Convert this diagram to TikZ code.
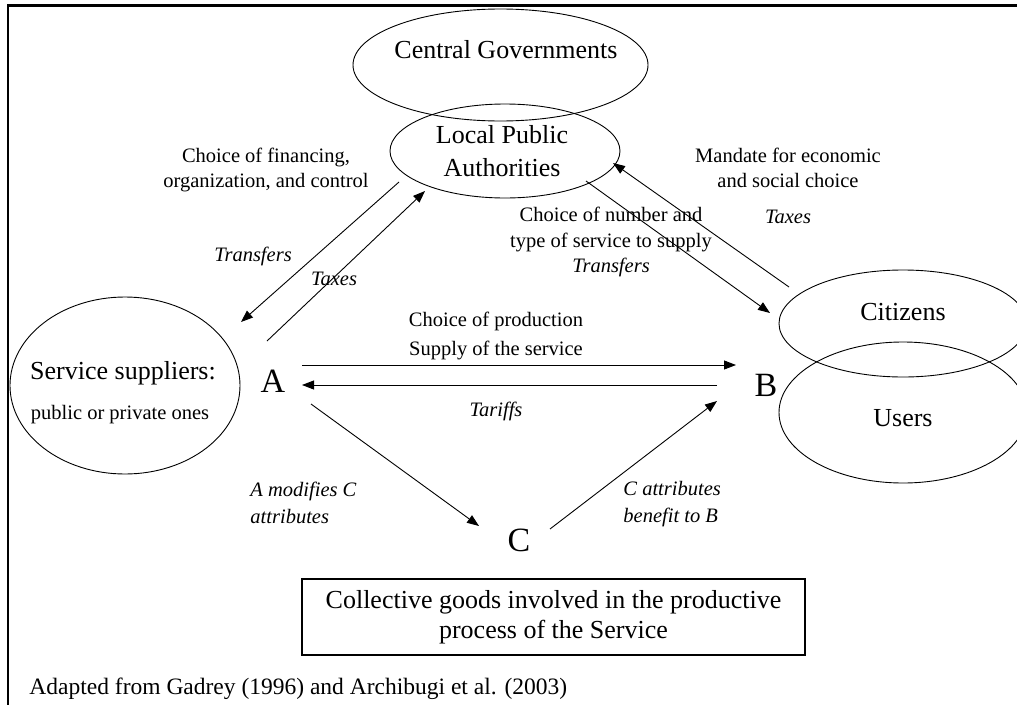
\documentclass[tikz,border=0pt]{standalone}
\usepackage{fontspec}
\setmainfont{Liberation Serif}
\usetikzlibrary{shapes.geometric,arrows.meta}

\begin{document}
\begin{tikzpicture}[x=1pt,y=-1pt,line width=0.9pt,
    bubble/.style={draw,ellipse,inner sep=0pt},
    bigtxt/.style={font=\fontsize{26}{33}\selectfont,align=center,inner sep=0pt},
    smalltxt/.style={font=\fontsize{20.5}{25.5}\selectfont,align=center,inner sep=0pt},
    tagtxt/.style={font=\fontsize{20.5}{27}\selectfont\itshape,align=left,inner sep=0pt},
    letter/.style={font=\fontsize{34}{36}\selectfont,inner sep=0pt},
    arr/.style={-{Triangle[length=12pt,width=9pt]}}]
      \useasboundingbox (0,0) rectangle (1017,704);
      \draw[line width=2.6pt] (8,730) -- (8,5.5) -- (1040,5.5);
      % ellipses
      \node[bubble,minimum width=295pt,minimum height=112pt] (cg) at (500.5,65) {};
      \node[bubble,minimum width=230pt,minimum height=94pt] (lpa) at (505,151) {};
      \node[bubble,minimum width=230pt,minimum height=177pt] (ss) at (125,385.5) {};
      \node[bubble,minimum width=248pt,minimum height=107pt] (cit) at (903,323.5) {};
      \node[bubble,minimum width=248pt,minimum height=141pt] (usr) at (903,412.5) {};
      % names in the ellipses
      \node[bigtxt] (cgname) at (506,50) {Central Governments};
      \node[bigtxt] (lpaname) at (502,151) {Local Public\\Authorities};
      \node[bigtxt] (ssname) at (123,373) {Service suppliers:};
      \node[smalltxt] (sskind) at (120,415) {public or private ones};
      \node[bigtxt] (citname) at (903,312) {Citizens};
      \node[bigtxt] (usrname) at (903,418) {Users};
      % the three actors
      \node[letter] (A) at (273,381) {A};
      \node[letter] (B) at (766,385) {B};
      \node[letter] (C) at (519,540) {C};
      % labels
      \node[smalltxt] (fin) at (266,170) {Choice of financing,\\organization, and control};
      \node[smalltxt] (mand) at (788,168) {Mandate for economic\\and social choice};
      \node[tagtxt] (taxR) at (788,217) {Taxes};
      \node[smalltxt] (numb) at (611,242) {Choice of number and\\type of service to supply\\\textit{Transfers}};
      \node[tagtxt] (trL) at (253,256) {Transfers};
      \node[tagtxt] (taxL) at (334,279) {Taxes};
      \node[smalltxt] (prod) at (496,321) {Choice of production};
      \node[smalltxt] (supp) at (496,350) {Supply of the service};
      \node[tagtxt] (tar) at (496,411) {Tariffs};
      \node[tagtxt,anchor=west] (amod) at (250,503) {A modifies C\\attributes};
      \node[tagtxt,anchor=west] (cattr) at (623,504) {C attributes\\benefit to B};
      \node[draw,align=center,line width=1.8pt,minimum width=503pt,minimum height=76pt,inner sep=0pt,font=\fontsize{26}{30}\selectfont] (goods) at (553.5,617) {Collective goods involved in the productive\\process of the Service};
      \node[anchor=west,inner sep=0pt,font=\fontsize{23.5}{26}\selectfont] (src) at (29,689) {Adapted from Gadrey (1996) and Archibugi et al. (2003)};
      % arrow ends
      \coordinate (lpa-ss) at (399,182);
      \coordinate (ss-in) at (241,322);
      \coordinate (A-up) at (267,341);
      \coordinate (lpa-in) at (425,191);
      \coordinate (cit-up) at (789,287);
      \coordinate (lpa-rin) at (613,163);
      \coordinate (lpa-cit) at (586,181);
      \coordinate (B-up) at (770,313);
      \coordinate (A-e1) at (302,365);
      \coordinate (B-w1) at (736,365);
      \coordinate (B-w2) at (717,385);
      \coordinate (A-e2) at (302,385);
      \coordinate (A-se) at (311,404);
      \coordinate (C-nw) at (479,526);
      \coordinate (C-ne) at (550,529);
      \coordinate (B-sw) at (717,401);
      % arrows
      \draw[arr] (lpa-ss) -- (ss-in);
      \draw[arr] (A-up) -- (lpa-in);
      \draw[arr] (cit-up) -- (lpa-rin);
      \draw[arr] (lpa-cit) -- (B-up);
      \draw[arr] (A-e1) -- (B-w1);
      \draw[arr] (B-w2) -- (A-e2);
      \draw[arr] (A-se) -- (C-nw);
      \draw[arr] (C-ne) -- (B-sw);
\end{tikzpicture}
\end{document}
